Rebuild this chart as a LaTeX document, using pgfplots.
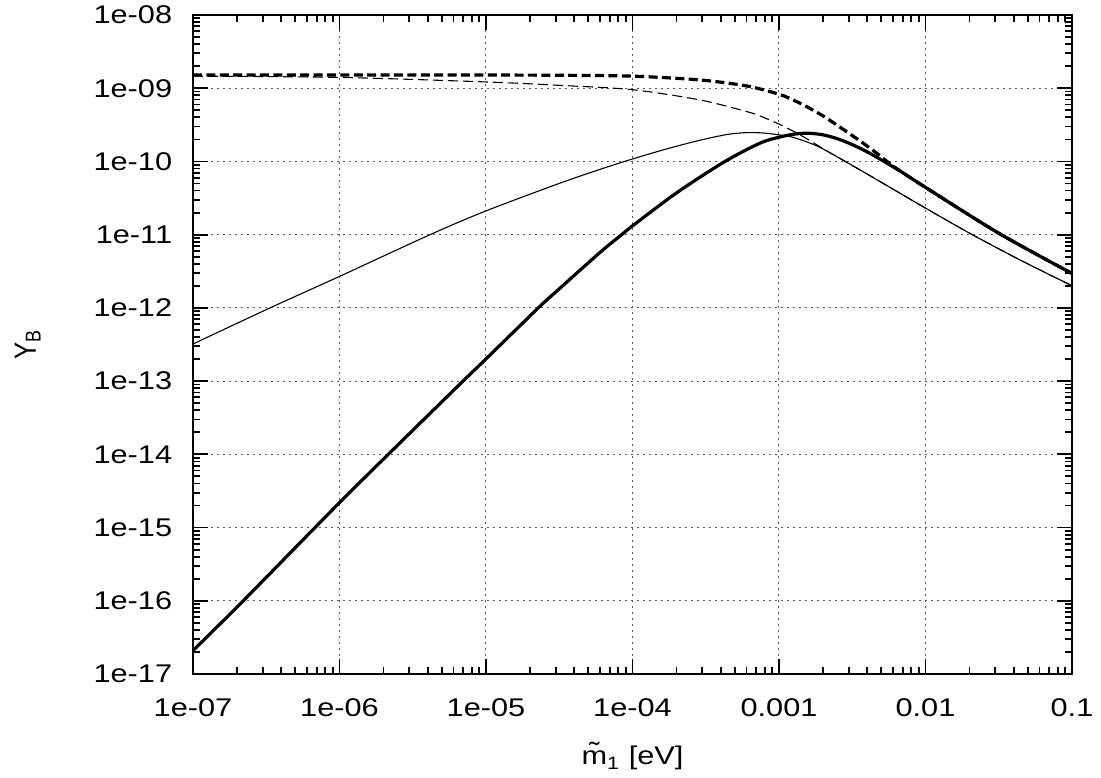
\documentclass[border=0pt]{standalone}
\usepackage{fontspec}
\setmainfont{Liberation Sans}
\usepackage{pgfplots}
\pgfplotsset{compat=1.18}
\begin{document}
\begin{tikzpicture}
\begin{axis}[
  scale only axis, width=439.5pt, height=329.5pt,
  xmode=log, ymode=log,
  xmin=1e-7, xmax=0.1, ymin=1e-17, ymax=1e-8,
  xtick={1e-7,1e-6,1e-5,1e-4,1e-3,1e-2,1e-1},
  xticklabels={1e-07,1e-06,1e-05,1e-04,0.001,0.01,0.1},
  ytick={1e-17,1e-16,1e-15,1e-14,1e-13,1e-12,1e-11,1e-10,1e-9,1e-8},
  yticklabels={1e-17,1e-16,1e-15,1e-14,1e-13,1e-12,1e-11,1e-10,1e-09,1e-08},
  minor xtick={2e-7,3e-7,4e-7,5e-7,6e-7,7e-7,8e-7,9e-7,
               2e-6,3e-6,4e-6,5e-6,6e-6,7e-6,8e-6,9e-6,
               2e-5,3e-5,4e-5,5e-5,6e-5,7e-5,8e-5,9e-5,
               2e-4,3e-4,4e-4,5e-4,6e-4,7e-4,8e-4,9e-4,
               2e-3,3e-3,4e-3,5e-3,6e-3,7e-3,8e-3,9e-3,
               2e-2,3e-2,4e-2,5e-2,6e-2,7e-2,8e-2,9e-2},
  minor ytick={2e-17,3e-17,4e-17,5e-17,6e-17,7e-17,8e-17,9e-17,
               2e-16,3e-16,4e-16,5e-16,6e-16,7e-16,8e-16,9e-16,
               2e-15,3e-15,4e-15,5e-15,6e-15,7e-15,8e-15,9e-15,
               2e-14,3e-14,4e-14,5e-14,6e-14,7e-14,8e-14,9e-14,
               2e-13,3e-13,4e-13,5e-13,6e-13,7e-13,8e-13,9e-13,
               2e-12,3e-12,4e-12,5e-12,6e-12,7e-12,8e-12,9e-12,
               2e-11,3e-11,4e-11,5e-11,6e-11,7e-11,8e-11,9e-11,
               2e-10,3e-10,4e-10,5e-10,6e-10,7e-10,8e-10,9e-10,
               2e-9,3e-9,4e-9,5e-9,6e-9,7e-9,8e-9,9e-9},
  grid=major,
  major grid style={black!65, line width=0.5pt, dash pattern=on 0.8pt off 2.2pt},
  minor grid style={draw=none},
  axis line style={line width=1.4pt},
  tick style={black, line width=0.9pt},
  major tick length=7.5pt, minor tick length=3.5pt,
  tick align=inside,
  every tick label/.append style={font=\fontsize{12.8}{15}\selectfont, inner sep=0pt, xscale=1.2},
  xticklabel style={anchor=north, yshift=-12pt},
  yticklabel style={anchor=east, xshift=-8.5pt},
  xlabel={\~{m}\textsubscript{1} [eV]},
  ylabel={Y\textsubscript{B}},
  every axis x label/.style={at={(axis description cs:0.5,-0.138)}, anchor=base, font=\fontsize{12.8}{15}\selectfont, xscale=1.2},
  every axis y label/.style={at={(axis description cs:-0.188,0.5)}, anchor=center, font=\fontsize{12.8}{15}\selectfont, xscale=1.2, rotate=90},
]
% thin dashed
\addplot[black, line width=0.55pt, dash pattern=on 5pt off 2.5pt, smooth, tension=0.5] coordinates {
 (1e-7,1.462e-9) (1e-6,1.406e-9) (1e-5,1.219e-9) (3.162e-5,1.096e-9)
 (1e-4,9.550e-10) (2.891e-4,6.918e-10) (6.026e-4,4.797e-10) (7.413e-4,4.188e-10)
 (1e-3,3.236e-10) (1.393e-3,2.307e-10) (2.118e-3,1.396e-10) (2.477e-3,1.167e-10)
 (3.981e-3,6.761e-11) (6.026e-3,4.169e-11) (1e-2,2.307e-11) (2.065e-2,1.012e-11)
 (4.467e-2,4.467e-12) (0.1,2.009e-12)
};
% thick dashed
\addplot[black, line width=1.6pt, dash pattern=on 4.5pt off 2.2pt, smooth, tension=0.5] coordinates {
 (1e-7,1.517e-9) (1e-6,1.517e-9) (1e-5,1.514e-9) (3.162e-5,1.503e-9)
 (1e-4,1.462e-9) (2.891e-4,1.297e-9) (6.026e-4,1.074e-9) (1e-3,8.279e-10)
 (1.247e-3,6.918e-10) (1.545e-3,5.610e-10) (2.118e-3,3.890e-10) (3.573e-3,1.905e-10)
 (4.645e-3,1.297e-10) (5.623e-3,9.550e-11) (6.902e-3,7.145e-11) (1e-2,4.426e-11)
 (3.162e-2,1.047e-11) (0.1,2.951e-12)
};
% thin solid
\addplot[black, line width=0.55pt, smooth, tension=0.5] coordinates {
 (1e-7,3.214e-13) (3.357e-7,1e-12) (1e-6,2.692e-12) (4.150e-6,1e-11)
 (1e-5,2.113e-11) (3.162e-5,5.012e-11) (5.998e-5,7.798e-11) (1e-4,1.081e-10)
 (1.710e-4,1.483e-10) (2.891e-4,1.950e-10) (4.467e-4,2.344e-10) (6.026e-4,2.477e-10)
 (7.943e-4,2.443e-10) (1e-3,2.307e-10) (1.247e-3,2.138e-10) (1.778e-3,1.660e-10)
 (2.477e-3,1.167e-10) (3.981e-3,6.761e-11) (6.026e-3,4.169e-11) (1e-2,2.307e-11)
 (2.065e-2,1.012e-11) (4.467e-2,4.467e-12) (0.1,2.009e-12)
};
% thick solid
\addplot[black, line width=1.6pt, smooth, tension=0.5] coordinates {
 (1e-7,2.089e-17) (2.203e-7,1e-16) (1e-6,2.188e-15) (2.588e-6,1.435e-14)
 (6.966e-6,1e-13) (1e-5,2.009e-13) (2.275e-5,1e-12) (3.162e-5,1.820e-12)
 (5.998e-5,5.715e-12) (8.433e-5,1e-11) (1e-4,1.318e-11) (1.995e-4,3.715e-11)
 (4.276e-4,1e-10) (7.413e-4,1.778e-10) (1e-3,2.143e-10) (1.259e-3,2.355e-10)
 (1.545e-3,2.432e-10) (1.945e-3,2.333e-10) (2.449e-3,2.075e-10) (3.083e-3,1.738e-10)
 (3.882e-3,1.393e-10) (4.887e-3,1.079e-10) (6.902e-3,7.145e-11) (1e-2,4.426e-11)
 (3.162e-2,1.047e-11) (0.1,2.951e-12)
};
\end{axis}
\pgfresetboundingbox
\path[use as bounding box] (-96.5pt,-51.5pt) rectangle (454pt,337pt);
\end{tikzpicture}
\end{document}
